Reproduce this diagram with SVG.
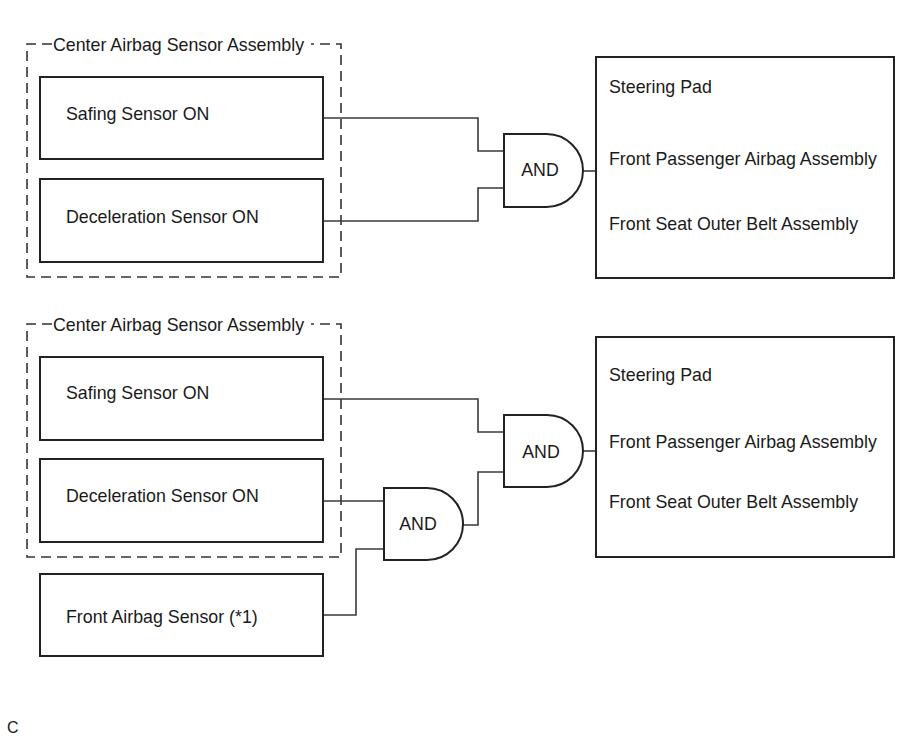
<svg xmlns="http://www.w3.org/2000/svg" width="906" height="738" viewBox="0 0 906 738">
<style>
text{font-family:"Liberation Sans",Arial,sans-serif;font-size:17.8px;fill:#1a1a1a}
.box{fill:#fff;stroke:#222;stroke-width:2}
.grp{fill:none;stroke:#333;stroke-width:1.6;stroke-dasharray:10 6}
.gate{fill:#fff;stroke:#222;stroke-width:2}
.wire{fill:none;stroke:#3a3a3a;stroke-width:1.6}
</style>
<rect width="906" height="738" fill="#fff"/>
<g id="group1">
<path class="grp" d="M52,44 H27 V277 H341 V44 H311"/>
<text x="53" y="51">Center Airbag Sensor Assembly</text>
</g>
<g id="group2">
<path class="grp" d="M52,324 H27 V557 H341 V324 H311"/>
<text x="53" y="331">Center Airbag Sensor Assembly</text>
</g>
<g id="connectors">
<path class="wire" d="M323,118 H478 V151 H504"/>
<path class="wire" d="M323,221 H478 V188 H504"/>
<path class="wire" d="M583,171 H597"/>
<path class="wire" d="M323,399 H478 V432 H504"/>
<path class="wire" d="M463,525 H478 V472 H504"/>
<path class="wire" d="M583,451 H597"/>
<path class="wire" d="M323,501 H384"/>
<path class="wire" d="M323,615 H356 V549 H384"/>
</g>
<g id="safing1"><rect class="box" x="40" y="77" width="283" height="82"/><text x="66" y="120">Safing Sensor ON</text></g>
<g id="decel1"><rect class="box" x="40" y="179" width="283" height="83"/><text x="66" y="223">Deceleration Sensor ON</text></g>
<g id="and1"><path class="gate" d="M504,134 H546.5 A36.5,36.5 0 0 1 546.5,207 H504 Z"/><text x="540" y="176" text-anchor="middle">AND</text></g>
<g id="out1"><rect class="box" x="596" y="57" width="298" height="221"/>
<text x="609" y="93">Steering Pad</text>
<text x="609" y="165">Front Passenger Airbag Assembly</text>
<text x="609" y="230">Front Seat Outer Belt Assembly</text></g>
<g id="safing2"><rect class="box" x="40" y="357" width="283" height="83"/><text x="66" y="399">Safing Sensor ON</text></g>
<g id="decel2"><rect class="box" x="40" y="459" width="283" height="83"/><text x="66" y="502">Deceleration Sensor ON</text></g>
<g id="frontsensor"><rect class="box" x="40" y="574" width="283" height="82"/><text x="66" y="623">Front Airbag Sensor (*1)</text></g>
<g id="and2"><path class="gate" d="M504,415 H547 A36,36 0 0 1 547,487 H504 Z"/><text x="541" y="458" text-anchor="middle">AND</text></g>
<g id="and3"><path class="gate" d="M384,488 H427 A36,36 0 0 1 427,560 H384 Z"/><text x="418" y="530" text-anchor="middle">AND</text></g>
<g id="out2"><rect class="box" x="596" y="337" width="298" height="220"/>
<text x="609" y="381">Steering Pad</text>
<text x="609" y="448">Front Passenger Airbag Assembly</text>
<text x="609" y="508">Front Seat Outer Belt Assembly</text></g>
<text x="7" y="733" style="font-size:16px">C</text>
</svg>
